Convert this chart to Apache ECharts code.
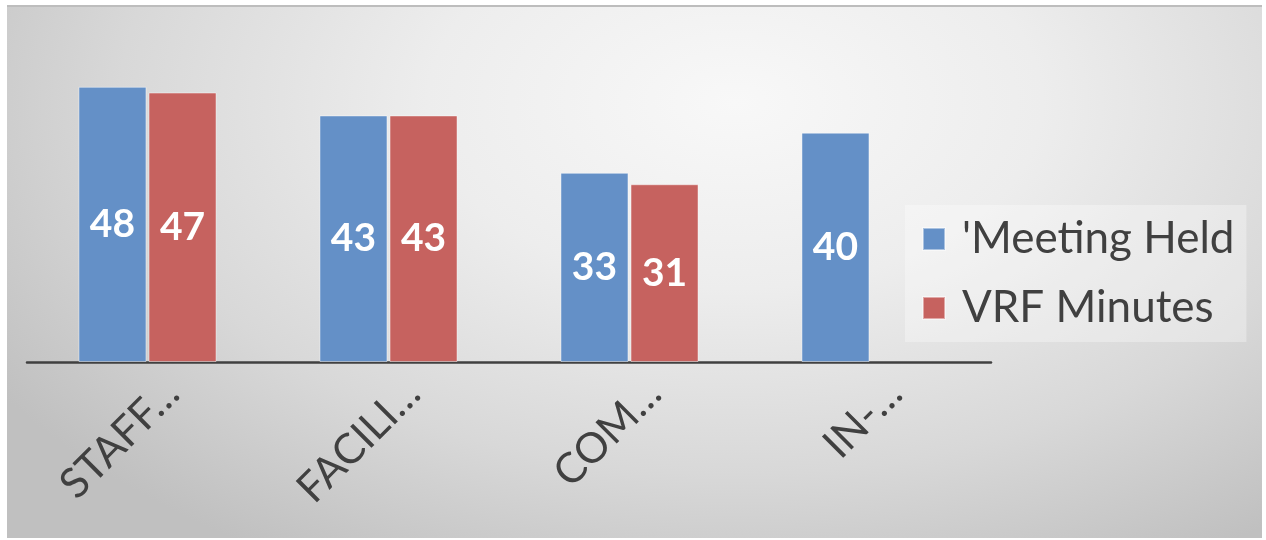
<!DOCTYPE html>
<html>
<head>
<meta charset="utf-8">
<script src="https://cdn.jsdelivr.net/npm/echarts@6/dist/echarts.min.js"></script>
<style>
  html, body { margin: 0; padding: 0; background: #ffffff; }
  #frame {
    position: absolute; left: 7px; top: 5px; width: 1255px; height: 533px;
    box-sizing: border-box;
    border-top: 2px solid #bdbdbd;
    background: radial-gradient(ellipse 70% 100% at 58% 18%, #f8f8f8 0%, #ededed 35%, #d8d8d8 70%, #c0c0c0 100%);
  }
  #chart { position: absolute; left: 0; top: 0; width: 1266px; height: 540px; }
</style>
</head>
<body>
<div id="frame"></div>
<div id="chart"></div>
<script>
// Categories (shown truncated on the axis) and the two series
const categories = ['STAFF…', 'FACILI…', 'COM…', 'IN-…'];
const seriesNames = ["'Meeting Held", 'VRF Minutes'];
const meetingHeld = [48, 43, 33, 40];
const vrfMinutes = [47, 43, 31, null];

const FONT = 'Lato';
const TEXT_COLOR = '#404040';

const chart = echarts.init(document.getElementById('chart'), null, { renderer: 'canvas' });

const valueLabel = {
  show: true,
  position: 'inside',
  color: '#ffffff',
  fontFamily: FONT,
  fontWeight: 'bold',
  fontSize: 39
};

chart.setOption({
  backgroundColor: 'transparent',
  animation: false,
  grid: { left: 27, right: 275, top: 18, height: 344, containLabel: false },
  legend: {
    orient: 'vertical',
    left: 905,
    top: 205,
    padding: [9, 12, 9, 17],
    backgroundColor: 'rgba(255,255,255,0.32)',
    itemWidth: 22,
    itemHeight: 22,
    itemGap: 19,
    icon: 'rect',
    selectedMode: false,
    data: seriesNames,
    textStyle: {
      fontFamily: FONT,
      fontSize: 44,
      color: TEXT_COLOR,
      lineHeight: 50,
      padding: [0, 0, 0, 12]
    }
  },
  xAxis: {
    type: 'category',
    data: categories,
    boundaryGap: true,
    axisLine: { show: true, lineStyle: { color: '#404040', width: 2.5 } },
    axisTick: { show: false },
    splitLine: { show: false },
    axisLabel: {
      interval: 0,
      rotate: 45,
      margin: 0,
      verticalAlign: 'top',
      lineHeight: 70,
      fontFamily: FONT,
      fontSize: 42,
      color: TEXT_COLOR
    }
  },
  yAxis: {
    type: 'value',
    min: 0,
    max: 60,
    show: false,
    splitLine: { show: false }
  },
  series: [
    {
      name: seriesNames[0],
      type: 'bar',
      data: meetingHeld,
      barWidth: 68,
      barGap: '3%',
      itemStyle: { color: '#6490C7', borderColor: 'rgba(255,255,255,0.45)', borderWidth: 1 },
      label: valueLabel
    },
    {
      name: seriesNames[1],
      type: 'bar',
      data: vrfMinutes,
      barWidth: 68,
      barGap: '3%',
      itemStyle: { color: '#C6625F', borderColor: 'rgba(255,255,255,0.45)', borderWidth: 1 },
      label: valueLabel
    }
  ]
});
</script>
</body>
</html>
